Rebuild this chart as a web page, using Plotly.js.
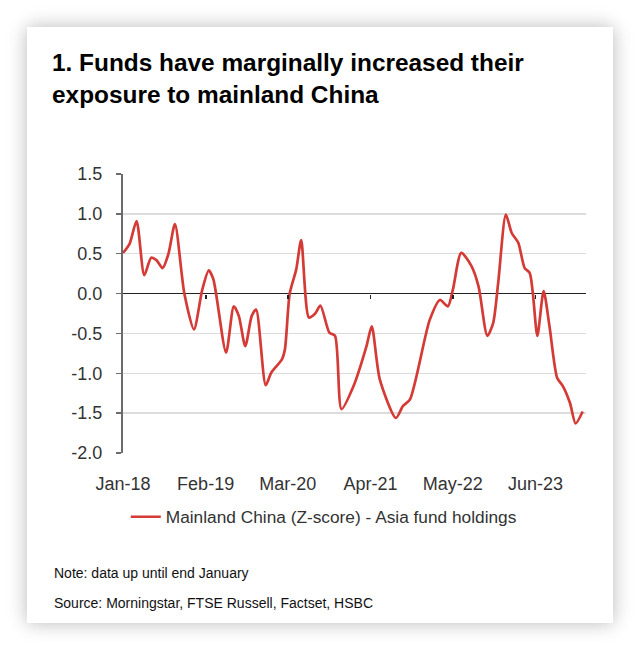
<!DOCTYPE html>
<html>
<head>
<meta charset="utf-8">
<script src="https://cdn.plot.ly/plotly-3.0.1.min.js"></script>
<style>
  html, body { margin: 0; padding: 0; background: #ffffff; }
  #card { position: absolute; left: 27px; top: 27px; width: 586px; height: 596px; background: #fff;
          box-shadow: 0 0 18px rgba(0,0,0,0.28); }
  #chart { position: absolute; left: 0; top: 0; width: 640px; height: 651px; }
</style>
</head>
<body>
<div id="card"></div>
<div id="chart"></div>
<script>
// Data (Z-score of Asia fund holdings in mainland China)
const dates = [
  '2018-01-01','2018-02-01','2018-03-07','2018-04-13','2018-05-16','2018-06-10','2018-07-10','2018-08-07','2018-09-07','2018-10-22',
  '2018-12-07','2019-01-16','2019-02-16','2019-03-10','2019-05-10','2019-06-16','2019-07-10','2019-08-10','2019-09-10','2019-10-01',
  '2019-11-16','2019-12-13','2020-02-01','2020-02-16','2020-03-10','2020-04-10','2020-05-04','2020-06-10','2020-07-10','2020-08-04',
  '2020-09-16','2020-10-13','2020-11-13','2021-01-10','2021-03-13','2021-04-07','2021-05-16','2021-08-01','2021-09-04','2021-10-07',
  '2022-01-10','2022-02-28','2022-04-07','2022-05-01','2022-06-10','2022-07-28','2022-09-01','2022-10-13','2022-11-10','2022-12-04',
  '2023-01-10','2023-02-07','2023-03-10','2023-04-10','2023-05-04','2023-05-19','2023-06-10','2023-07-10','2023-08-07','2023-09-13',
  '2023-10-10','2023-11-13','2023-12-10','2024-01-13'
];
const zScore = [
  0.51, 0.62, 0.91, 0.23, 0.45, 0.42, 0.32, 0.50, 0.87, 0.00,
  -0.45, 0.05, 0.29, 0.18, -0.74, -0.16, -0.28, -0.66, -0.28, -0.20,
  -1.15, -0.99, -0.83, -0.70, 0.00, 0.30, 0.67, -0.30, -0.25, -0.15,
  -0.49, -0.53, -1.45, -1.16, -0.66, -0.41, -1.08, -1.56, -1.41, -1.33,
  -0.33, -0.08, -0.16, 0.05, 0.51, 0.35, 0.09, -0.53, -0.37, 0.13,
  0.99, 0.76, 0.64, 0.32, 0.26, 0.01, -0.53, 0.03, -0.41, -1.06,
  -1.16, -1.37, -1.63, -1.48
];
const seriesName = 'Mainland China (Z-score) - Asia fund holdings';
const xTickVals = ['2018-01-01','2019-02-01','2020-03-01','2021-04-01','2022-05-01','2023-06-01'];
const xTickText = ['Jan-18','Feb-19','Mar-20','Apr-21','May-22','Jun-23'];
const yTickVals = [-2, -1.5, -1, -0.5, 0, 0.5, 1, 1.5];
const yTickText = ['-2.0','-1.5','-1.0','-0.5','0.0','0.5','1.0','1.5'];
const titleText = '<b>1. Funds have marginally increased their<br>exposure to mainland China</b>';
const noteText = 'Note: data up until end January';
const sourceText = 'Source: Morningstar, FTSE Russell, Factset, HSBC';

const xRange = ['2018-01-01', '2024-01-29'];
const yRange = [-2, 1.5];
const zeroPos = (0 - yRange[0]) / (yRange[1] - yRange[0]);
const FONT = 'Liberation Sans, Arial, sans-serif';

const traces = [{
  type: 'scatter', mode: 'lines', x: dates, y: zScore, name: seriesName,
  line: { color: '#d43b36', width: 2.7, shape: 'spline', smoothing: 0.7 },
  hoverinfo: 'skip'
}, {
  type: 'scatter', mode: 'lines', x: xTickVals, y: xTickVals.map(() => 0), xaxis: 'x2', yaxis: 'y',
  line: { width: 0, color: 'rgba(0,0,0,0)' }, showlegend: false, hoverinfo: 'skip'
}];

const layout = {
  width: 640, height: 651,
  paper_bgcolor: 'rgba(0,0,0,0)', plot_bgcolor: 'rgba(0,0,0,0)',
  margin: { l: 123, r: 54, t: 174, b: 198 },
  font: { family: FONT, color: '#333333' },
  title: {
    text: titleText, x: 52 / 640, xanchor: 'left', xref: 'container',
    y: 1 - 71 / 651, yanchor: 'top', yref: 'container',
    font: { family: FONT, size: 24.4, color: '#000000' }
  },
  xaxis: {
    type: 'date', range: xRange, tickvals: xTickVals, ticktext: xTickText,
    showgrid: false, zeroline: false, showline: false, ticks: '',
    tickfont: { size: 18, color: '#333333' }, ticklabelstandoff: 18, fixedrange: true
  },
  xaxis2: {
    type: 'date', range: xRange, tickvals: xTickVals.slice(1), overlaying: 'x', anchor: 'free', position: zeroPos,
    showgrid: false, zeroline: false, showline: false, ticks: 'outside', ticklen: 4, tickwidth: 1.8, tickcolor: '#222222',
    showticklabels: false, fixedrange: true
  },
  yaxis: {
    range: yRange, tickvals: yTickVals, ticktext: yTickText,
    showgrid: true, gridcolor: '#dcdcdc', gridwidth: 1.5,
    zeroline: true, zerolinecolor: '#222222', zerolinewidth: 1.5,
    showline: true, linecolor: '#6b6b6b', linewidth: 2,
    ticks: 'outside', ticklen: 5, tickwidth: 1.5, tickcolor: '#6b6b6b',
    tickfont: { size: 18, color: '#333333' }, ticklabelstandoff: 10, fixedrange: true
  },
  showlegend: true,
  legend: {
    orientation: 'h', x: 0.006, xanchor: 'left', y: (453 - 517) / 279, yanchor: 'middle',
    font: { family: FONT, size: 17.3, color: '#333333' },
    bgcolor: 'rgba(0,0,0,0)', borderwidth: 0
  },
  annotations: [
    { text: noteText, xref: 'paper', yref: 'paper', x: (52 - 123) / 463, y: (453 - 573) / 279,
      xanchor: 'left', yanchor: 'middle', showarrow: false,
      font: { family: FONT, size: 14, color: '#111111' } },
    { text: sourceText, xref: 'paper', yref: 'paper', x: (52 - 123) / 463, y: (453 - 603) / 279,
      xanchor: 'left', yanchor: 'middle', showarrow: false,
      font: { family: FONT, size: 14, color: '#111111' } }
  ]
};

Plotly.newPlot('chart', traces, layout, { displayModeBar: false, staticPlot: true });
</script>
</body>
</html>
